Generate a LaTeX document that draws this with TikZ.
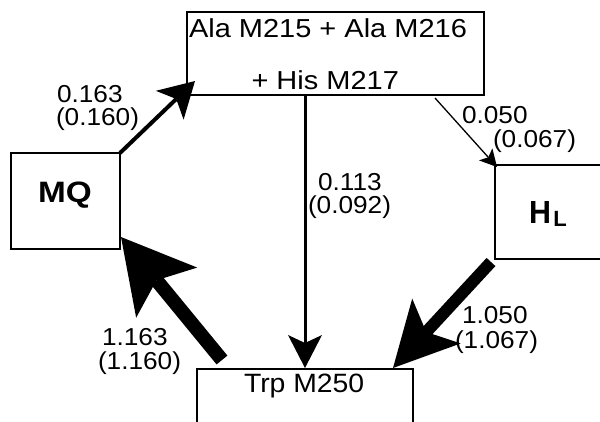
\documentclass[tikz,border=0pt]{standalone}
\usepackage{fontspec}
\setmainfont{Liberation Sans}
\usepackage{graphicx}
\usetikzlibrary{arrows.meta,calc}

% horizontal stretch of a piece of text
\newcommand{\wider}[2]{\scalebox{#1}[1]{#2}}

\begin{document}
\begin{tikzpicture}[x=1pt,y=-1pt,
  box/.style={draw, line width=1.4pt, inner sep=0pt, outer sep=0pt},
  txt/.style={inner sep=0pt, outer sep=0pt, anchor=base west},
  lbl/.style={txt, font=\fontsize{24.5}{24.5}\selectfont},
]
\useasboundingbox (0,0) rectangle (600,421);
\fill[white] (0,0) rectangle (600,421);
\clip (0,0) rectangle (600,421);

% boxes
\node[box, minimum width=297pt, minimum height=83pt] (top) at (335.5,53.5) {};
\node[box, minimum width=109pt, minimum height=96pt] (mq) at (65.5,201) {};
\node[box, minimum width=130pt, minimum height=94pt] (hl) at (560,212) {};
\node[box, minimum width=216pt, minimum height=90pt] (trp) at (305,414) {};

% box texts
\node[txt, font=\fontsize{26}{26}\selectfont] (topA) at (189,37) {\wider{1.115}{Ala M215 + Ala M216}};
\node[txt, font=\fontsize{26}{26}\selectfont] (topB) at (251.5,89) {\wider{1.115}{+ His M217}};
\node[txt, font=\fontsize{29.5}{29.5}\selectfont\bfseries] (mqtxt) at (38,202) {\wider{1.13}{MQ}};
\node[txt, font=\fontsize{32}{32}\selectfont\bfseries] (hltxt) at (529,223.5) {\wider{0.95}{H}\kern2.5pt\raisebox{-3pt}{\fontsize{22}{22}\selectfont L}};
\node[txt, font=\fontsize{26.5}{26.5}\selectfont] (trptxt) at (244,392) {\wider{1.07}{Trp M250}};

% connectors
\draw[line width=4pt, -{Stealth[length=35pt,width=40pt,inset=9pt,line width=0pt]}]
  (mq.north east) -- ($(top.south west)+(8,-14)$);
\draw[line width=1.3pt, -{Stealth[length=17pt,width=18pt,inset=4pt,line width=0pt]}]
  ($(top.south east)+(-49,3)$) -- ($(hl.north west)+(2,2)$);
\draw[line width=3pt, -{Stealth[length=33pt,width=34pt,inset=8pt,line width=0pt]}]
  ($(top.south)+(-30.5,0)$) -- ($(trp.north)+(0,-1)$);
\draw[line width=14pt, -{Stealth[length=72pt,width=79pt,inset=16pt,line width=0pt]}]
  ($(trp.north west)+(25,-9)$) -- ($(mq.south east)+(1,-12)$);
\draw[line width=12pt, -{Stealth[length=64pt,width=66pt,inset=15pt,line width=0pt]}]
  ($(hl.south west)+(-4,3)$) -- ($(trp.north east)+(-20,-1)$);

% connector labels
\node[lbl] (l1a) at (57,102) {\wider{1.07}{0.163}};
\node[lbl] (l1b) at (56,125.5) {\wider{1.07}{(0.160)}};
\node[lbl] (l2a) at (462,123) {\wider{1.07}{0.050}};
\node[lbl] (l2b) at (493,147.5) {\wider{1.07}{(0.067)}};
\node[lbl] (l3a) at (318,190) {\wider{1.07}{0.113}};
\node[lbl] (l3b) at (308,213.5) {\wider{1.07}{(0.092)}};
\node[lbl] (l4a) at (102,345) {\wider{1.07}{1.163}};
\node[lbl] (l4b) at (98,369.5) {\wider{1.07}{(1.160)}};
\node[lbl] (l5a) at (462,323) {\wider{1.07}{1.050}};
\node[lbl] (l5b) at (455,348) {\wider{1.07}{(1.067)}};
\end{tikzpicture}
\end{document}
